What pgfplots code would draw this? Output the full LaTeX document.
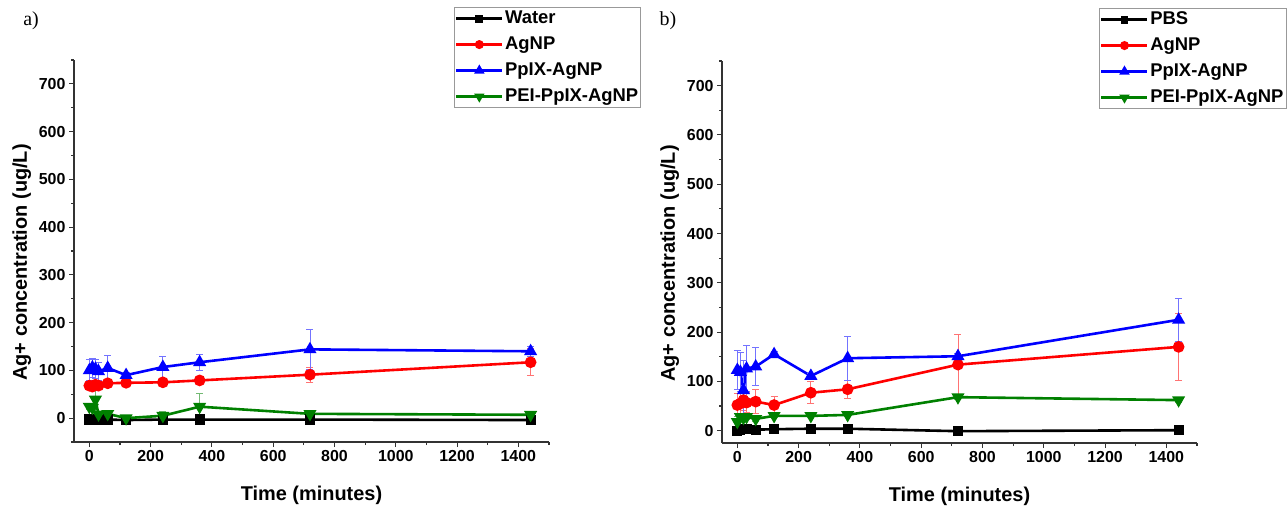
\documentclass[border=0pt]{standalone}
\usepackage{pgfplots}
\pgfplotsset{compat=1.18}
\usepackage{pgfplotstable}
\usepackage{fontspec}
\setmainfont{Liberation Sans}
\newfontfamily\timesfont{Liberation Serif}

\definecolor{cblk}{RGB}{0,0,0}
\definecolor{cred}{RGB}{255,0,0}
\definecolor{cblu}{RGB}{0,0,255}
\definecolor{cgrn}{RGB}{0,128,0}

% panel a) -- t in minutes, y = Ag+ (ug/L), e = error
\pgfplotstableread{
t y e
0 -3 1
10 -3 1
20 -3 1
30 -4 1
60 -3 1
120 -4 1
240 -3 1
360 -3 1
720 -3 1
1440 -4 1
}\wateraa
\pgfplotstableread{
t y e
0 68 3
10 66 4
20 70 6
30 68 4
60 73 3
120 74 3
240 75 5
360 79 5
720 91 16
1440 117 28
}\agnpa
\pgfplotstableread{
t y e
0 100 22
10 106 20
20 103 20
30 98 18
60 105 26
120 90 5
240 107 23
360 117 17
720 144 42
1440 140 10
}\ppixa
\pgfplotstableread{
t y e
0 24 5
10 22 5
20 39 30
30 8 4
60 9 4
120 0 5
240 5 10
360 24 28
720 9 4
1440 7 3
}\peia

% panel b)
\pgfplotstableread{
t y e
0 0 1
10 2 1
20 3 1
30 3 1
60 2 1
120 3 1
240 4 1
360 4 1
720 -1 1
1440 1 1
}\pbsb
\pgfplotstableread{
t y e
0 52 24
10 55 20
20 62 20
30 57 20
60 59 24
120 52 17
240 77 22
360 84 19
720 134 62
1440 170 67
}\agnpb
\pgfplotstableread{
t y e
0 123 39
10 119 40
20 82 60
30 126 47
60 130 38
120 155 5
240 111 5
360 147 44
720 151 5
1440 225 44
}\ppixb
\pgfplotstableread{
t y e
0 18 10
10 28 8
20 26 5
30 28 5
60 24 5
120 30 4
240 30 4
360 32 4
720 68 5
1440 62 4
}\peib

\pgfplotsset{
  agplot/.style={
    scale only axis, width=475bp, height=382bp,
    xmin=-50, xmax=1500, ymax=750,
    axis x line*=bottom, axis y line*=left,
    axis line style={line width=1.2bp, black!80},
    tick align=outside,
    xtick={0,200,...,1400}, minor xtick={100,300,...,1500},
    ytick={0,100,...,700}, minor ytick={-50,50,...,750},
    major tick length=5bp, minor tick length=3bp,
    every tick/.style={line width=1.1bp, black!80},
    tick label style={font=\bfseries\fontsize{16}{18}\selectfont},
    /pgf/number format/assume math mode=true,
    /pgf/number format/1000 sep={},
    scaled ticks=false,
    label style={font=\bfseries\fontsize{20}{24}\selectfont},
    xlabel={Time (minutes)},
    ylabel={Ag+ concentration (ug/L)},
    xlabel style={at={(axis description cs:0.5,-0.139)}, anchor=center},
    ylabel style={at={(axis description cs:-0.11,0.47)}, anchor=center},
    legend cell align=left,
    legend style={anchor=north east, draw=gray!80, line width=0.8bp, fill=white,
      font=\bfseries\fontsize{18.5}{20}\selectfont, inner sep=1bp, row sep=5.5bp,
      nodes={inner sep=1.5bp, text height=13.5bp, text depth=4bp}},
    legend image code/.code={\draw[#1, mark repeat=2, mark phase=2,
      every mark/.append style={scale=0.7}]
      plot coordinates {(0bp,0bp) (23bp,0bp) (46bp,0bp)};},
    clip=false,
  },
  ser/.style={color=#1, line width=2.6bp,
    /pgfplots/error bars/y dir=both,
    /pgfplots/error bars/y explicit,
    /pgfplots/error bars/error bar style={line width=0.8bp, #1!55, solid},
    /pgfplots/error bars/error mark options={rotate=90, line width=0.8bp, #1!55, mark size=3.5bp}},
}

\begin{document}
\begin{tikzpicture}
\useasboundingbox (0,0) rectangle (1288bp,-507bp);
\node[font=\timesfont\fontsize{20}{22}\selectfont] at (31bp,-21bp) {a)};
\node[font=\timesfont\fontsize{20}{22}\selectfont] at (668bp,-21bp) {b)};

\begin{axis}[agplot, at={(74bp,-442bp)}, anchor=south west, ymin=-50,
  legend style={at={(1.194,1.139)}}]
\addplot[ser=cblk, mark=square*, mark size=3.8bp] table[x=t, y=y, y error=e] {\wateraa};
\addplot[ser=cred, mark=*, mark size=4.5bp] table[x=t, y=y, y error=e] {\agnpa};
\addplot[ser=cblu, mark=triangle*, mark size=5bp] table[x=t, y=y, y error=e] {\ppixa};
\addplot[ser=cgrn, mark=triangle*, mark size=5bp, mark options={rotate=180}] table[x=t, y=y, y error=e] {\peia};
\legend{Water, AgNP, PpIX-AgNP, PEI-PpIX-AgNP}
\end{axis}

\begin{axis}[agplot, at={(722bp,-443bp)}, anchor=south west, ymin=-25,
  legend style={at={(1.188,1.139)}}]
\addplot[ser=cblk, mark=square*, mark size=3.8bp] table[x=t, y=y, y error=e] {\pbsb};
\addplot[ser=cred, mark=*, mark size=4.5bp] table[x=t, y=y, y error=e] {\agnpb};
\addplot[ser=cblu, mark=triangle*, mark size=5bp] table[x=t, y=y, y error=e] {\ppixb};
\addplot[ser=cgrn, mark=triangle*, mark size=5bp, mark options={rotate=180}] table[x=t, y=y, y error=e] {\peib};
\legend{PBS, AgNP, PpIX-AgNP, PEI-PpIX-AgNP}
\end{axis}
\end{tikzpicture}
\end{document}
